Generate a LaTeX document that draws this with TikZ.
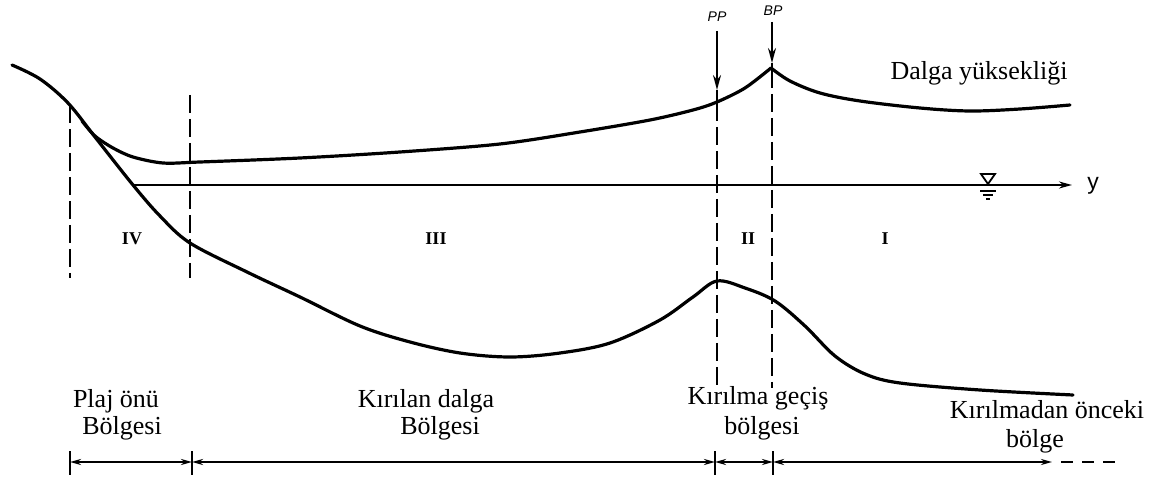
\documentclass[tikz,border=0pt]{standalone}
\usepackage{fontspec}
\setmainfont{Liberation Serif}
\newfontfamily\lsans{Liberation Sans}
\usetikzlibrary{arrows.meta,calc}
\begin{document}
\begin{tikzpicture}[x=1pt,y=-1pt,
  curve/.style={line width=3.2pt, line cap=round, line join=round},
  guide/.style={line width=1.9pt, dash pattern=on 18pt off 6pt},
  thin/.style={line width=2pt},
  dim/.style={thin, {Stealth[length=11pt,width=6pt]}-{Stealth[length=11pt,width=6pt]}},
  lbl/.style={font=\fontsize{26}{28}\selectfont, inner sep=0pt, anchor=base},
  roman/.style={font=\fontsize{18}{18}\selectfont\bfseries, inner sep=0pt, anchor=base},
  ptlbl/.style={font=\lsans\itshape\fontsize{14}{14}\selectfont, inner sep=0pt},
]
\useasboundingbox (0,0) rectangle (1152,478);

% bed profile
\draw[curve] plot[smooth, tension=0.55] coordinates {
  (12,65) (40,79) (68,103) (95,137) (133,185) (160,216) (190,243) (247,272)
  (300,297) (360,326) (410,342) (460,353) (510,357) (560,353) (610,343)
  (660,320) (693,297) (717,281) (745,288) (775,301) (805,326) (835,356)
  (865,374) (900,383) (980,390) (1073,395)};

% wave height
\draw[curve] plot[smooth, tension=0.5] coordinates {
  (82,121) (95,136) (113,148) (133,157) (163,163) (200,162) (300,158)
  (400,152) (500,144) (580,132) (650,120) (693,110) (717,102) (745,88) (771,68)};
\draw[curve] plot[smooth, tension=0.55] coordinates {
  (771,68) (790,81) (820,93) (860,101) (920,108) (970,111) (1020,109) (1070,105)};

% still water line
\coordinate (w0) at (133,185);
\coordinate (w1) at (1072,185);
\draw[thin, -{Stealth[length=13pt,width=7pt]}] (w0) -- (w1);
\node[font=\lsans\fontsize{23}{23}\selectfont, inner sep=0pt, anchor=base] (ylab) at (1093,190) {y};

% water level symbol
\draw[line width=1.8pt] (981,174) -- (995,174) -- (988,184) -- cycle;
\draw[line width=1.5pt] (980,191) -- (996,191);
\draw[line width=1.5pt] (983,195) -- (993,195);
\draw[line width=1.5pt] (986,199) -- (990,199);

% vertical guides
\coordinate (g1a) at (70,105);  \coordinate (g1b) at (70,278);
\coordinate (g2a) at (190,95);  \coordinate (g2b) at (190,278);
\coordinate (g3a) at (717,103); \coordinate (g3b) at (717,386);
\coordinate (g4a) at (772,70);  \coordinate (g4b) at (772,388);
\draw[guide] (g1a) -- (g1b);
\draw[guide] (g2a) -- (g2b);
\draw[guide] (g3a) -- (g3b);
\draw[guide] (g4a) -- (g4b);

% PP / BP markers
\node[ptlbl] (pp) at (717,17) {PP};
\node[ptlbl] (bp) at (773,11) {BP};
\coordinate (pps) at (717,31);
\coordinate (bps) at (772,22);
\coordinate (ppm) at (717,90);
\coordinate (bpm) at (772,63);
\draw[thin, -{Stealth[length=15pt,width=8pt]}] (pps) -- (ppm);
\draw[thin] (ppm) -- (g3a);
\draw[thin, -{Stealth[length=15pt,width=8pt]}] (bps) -- (bpm);
\draw[thin] (bpm) -- (g4a);

% zone numerals
\node[roman] (r4) at (132,245) {IV};
\node[roman] (r3) at (436,245) {III};
\node[roman] (r2) at (748,245) {II};
\node[roman] (r1) at (885,245) {I};

% curve label
\node[lbl] (dy) at (979,80) {Dalga yüksekliği};

% zone labels
\node[lbl] (a1) at (116,407) {Plaj önü};
\node[lbl] (a2) at (122,435) {Bölgesi};
\node[lbl] (b1) at (426,407) {Kırılan dalga};
\node[lbl] (b2) at (440,435) {Bölgesi};
\node[lbl] (c1) at (758,405) {Kırılma geçiş};
\node[lbl] (c2) at (762,435) {bölgesi};
\node[lbl] (d1) at (1047,418) {Kırılmadan önceki};
\node[lbl] (d2) at (1035,447) {bölge};

% dimension line
\coordinate (t1) at (70,462);
\coordinate (t2) at (192,462);
\coordinate (t3) at (715,462);
\coordinate (t4) at (773,462);
\coordinate (t5) at (1052,462);
\coordinate (t6) at (1122,462);
\foreach \t in {t1,t2,t3,t4}{
  \draw[thin] ($(\t)+(0,-11)$) -- ($(\t)+(0,13)$);
}
\draw[dim] (t1) -- (t2);
\draw[dim] (t2) -- (t3);
\draw[dim] (t3) -- (t4);
\draw[dim] (t4) -- (t5);
\draw[thin, dash pattern=on 12pt off 9pt] ([xshift=9pt]t5) -- (t6);
\end{tikzpicture}
\end{document}
